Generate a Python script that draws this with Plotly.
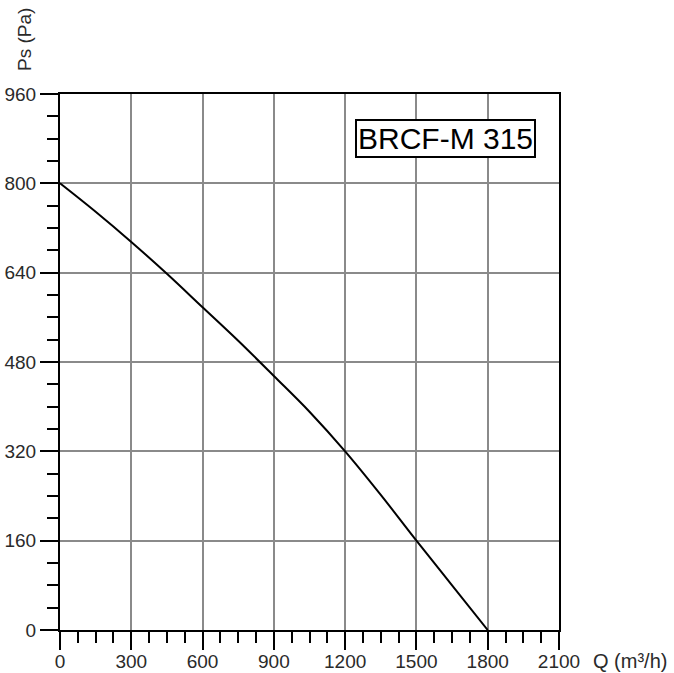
import plotly.graph_objects as go

# Data
flow_q = [0, 150, 300, 450, 600, 750, 900, 1050, 1200, 1350, 1500, 1650, 1800]
static_ps = [800, 749, 695, 638, 578, 518, 455, 391, 320, 242, 160, 80, 0]
x_ticks = [0, 300, 600, 900, 1200, 1500, 1800, 2100]
y_ticks = [0, 160, 320, 480, 640, 800, 960]
model_label = "BRCF-M 315"

FONT = "Liberation Sans, Arial, sans-serif"

fig = go.Figure()
fig.add_trace(go.Scatter(
    x=flow_q, y=static_ps, mode="lines",
    line=dict(color="black", width=2, shape="spline", smoothing=1.0),
    hoverinfo="skip", showlegend=False,
))

axis_common = dict(
    showline=True, linecolor="black", linewidth=2, mirror=True,
    showgrid=True, gridcolor="#8a8a8a", gridwidth=2,
    ticks="outside", tickcolor="black", tickwidth=2, ticklen=18,
    zeroline=False, automargin=False,
    tickfont=dict(family=FONT, size=19, color="#2a2a2a"),
)

fig.update_xaxes(
    range=[0, 2100], tickvals=x_ticks, ticktext=[str(v) for v in x_ticks],
    ticklabelstandoff=-5,
    minor=dict(dtick=75, tick0=0, ticks="outside", ticklen=11, tickwidth=2,
               tickcolor="black", showgrid=False),
    **axis_common,
)
fig.update_yaxes(
    range=[0, 960], tickvals=y_ticks, ticktext=[str(v) for v in y_ticks],
    minor=dict(dtick=40, tick0=0, ticks="outside", ticklen=11, tickwidth=2,
               tickcolor="black", showgrid=False),
    **axis_common,
)

fig.add_annotation(
    x=1624, y=881, xref="x", yref="y", text=model_label, showarrow=False,
    font=dict(family=FONT, size=30, color="black"),
    bordercolor="black", borderwidth=2, borderpad=1, bgcolor="white",
)
fig.add_annotation(
    x=1, y=0, xref="paper", yref="paper", xanchor="left", yanchor="middle",
    xshift=32, yshift=-31, text="Q (m³/h)", showarrow=False,
    font=dict(family=FONT, size=20, color="#2a2a2a"),
)
fig.add_annotation(
    x=0, y=1, xref="paper", yref="paper", xanchor="center", yanchor="middle",
    xshift=-36, yshift=54, text="Ps (Pa)", textangle=-90, showarrow=False,
    font=dict(family=FONT, size=19, color="#2a2a2a"),
)

fig.update_layout(
    width=674, height=673,
    margin=dict(l=60, r=115, t=94, b=43),
    paper_bgcolor="white", plot_bgcolor="white",
)

fig.write_html(
    "out.html",
    config={"displayModeBar": False, "staticPlot": True},
    post_script="document.body.style.margin='0';document.body.style.overflow='hidden';",
)
